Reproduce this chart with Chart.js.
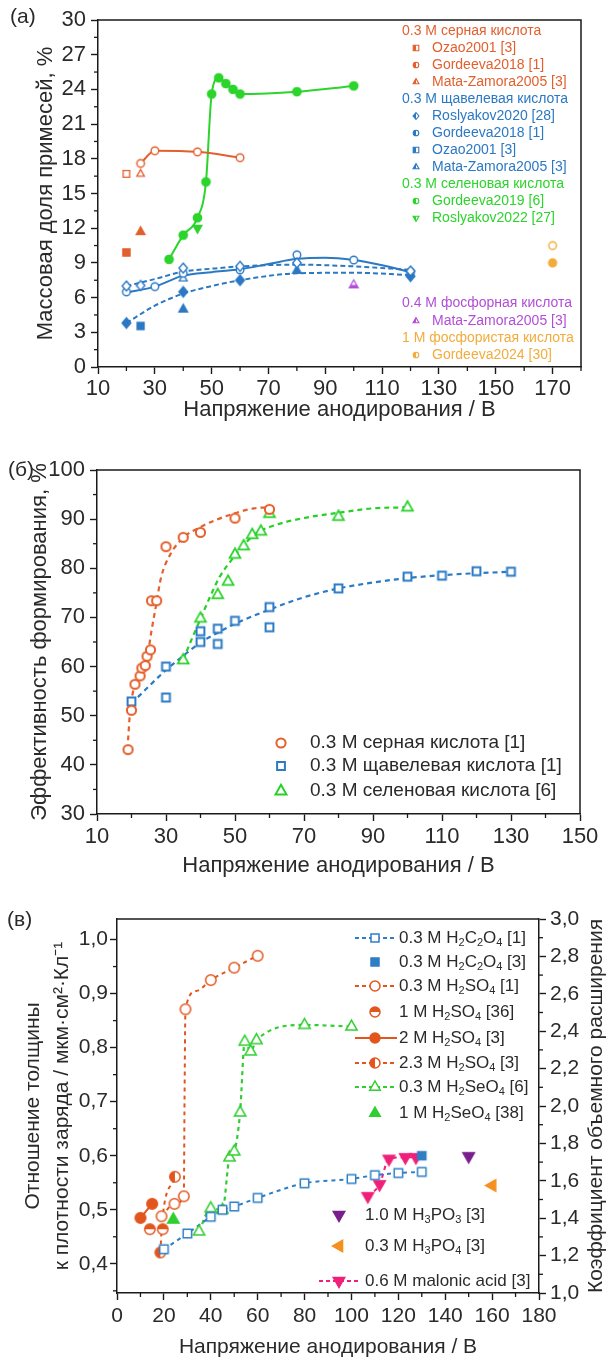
<!DOCTYPE html>
<html><head><meta charset="utf-8">
<script src="https://cdn.jsdelivr.net/npm/chart.js@4.4.1/dist/chart.umd.min.js"></script>
<style>
html,body{margin:0;padding:0;background:#fff;width:606px;height:1358px;overflow:hidden;position:relative}
canvas{position:absolute;left:0}
</style></head><body>
<canvas id="ca" width="606" height="430" style="top:0px"></canvas>
<canvas id="cb" width="606" height="460" style="top:430px"></canvas>
<canvas id="cc" width="606" height="480" style="top:890px"></canvas>
<script>
// ================= DATA =================
// ---- Panel (a) ----
const aXTicks = [10,30,50,70,90,110,130,150,170];
const aXMinor = [20,40,60,80,100,120,140,160,180];
const aYTicks = [0,3,6,9,12,15,18,21,24,27,30];
const aYMinor = [1.5,4.5,7.5,10.5,13.5,16.5,19.5,22.5,25.5,28.5];

const aSulfOzaoOpenV = [20], aSulfOzaoOpen = [16.7];
const aSulfOzaoFillV = [20], aSulfOzaoFill = [9.9];
const aSulfGordV = [25,30,45,60], aSulfGord = [17.6,18.7,18.6,18.1];
const aSulfMataOpenV = [25], aSulfMataOpen = [16.7];
const aSulfMataFillV = [25], aSulfMataFill = [11.7];

const aOxRosOpenV = [20,25,40,60,80,120], aOxRosOpen = [7.0,7.05,8.55,8.7,9.0,8.3];
const aOxRosFillV = [20,40,60,120], aOxRosFill = [3.8,6.5,7.5,7.85];
const aOxGordV = [20,30,40,60,80,100,120], aOxGord = [6.5,6.95,8.1,8.4,9.7,9.25,8.2];
const aOxOzaoFillV = [25], aOxOzaoFill = [3.55];
const aOxMataOpenV = [40], aOxMataOpen = [7.65];
const aOxMataFillV = [40,80], aOxMataFill = [5.0,8.35];

const aSeGordV = [35,40,45,48,50,52.5,55,57.5,60,80,100];
const aSeGord  = [9.3,11.4,12.9,16.0,23.6,25.0,24.5,24.0,23.6,23.8,24.3];
const aSeRosV = [45], aSeRos = [12.0];

const aPhosMataV = [100], aPhosMata = [7.1];
const aPhosiOpenV = [170], aPhosiOpen = [10.5];
const aPhosiFillV = [170], aPhosiFill = [9.0];

// fitted curves
const aOxFitSolidV = [20,30,40,50,60,70,80,90,100,110,120];
const aOxFitSolid  = [6.45,6.95,7.9,8.2,8.45,8.9,9.35,9.45,9.25,8.8,8.2];
const aOxFitUpV = [20,30,40,50,60,80,100,120];
const aOxFitUp  = [7.0,7.6,8.25,8.5,8.7,8.85,8.7,8.4];
const aOxFitLowV = [20,30,40,50,60,80,100,120];
const aOxFitLow  = [3.8,5.3,6.35,7.0,7.5,8.1,8.15,7.95];

// ---- Panel (b) ----
const bXTicks = [10,30,50,70,90,110,130,150];
const bXMinor = [20,40,60,80,100,120,140];
const bYTicks = [30,40,50,60,70,80,90,100];
const bYMinor = [35,45,55,65,75,85,95];

const bSulfV = [19,20,21,22.5,23,24,24.5,25.5,25.8,27.3,30,35,40,50,60];
const bSulf  = [43.1,51.1,56.4,58.1,59.7,60.2,62.1,63.4,73.4,73.4,84.4,86.3,87.3,90.2,92.0];
const bOxV = [20,30,30,40,40,45,45,50,60,60,80,100,110,120,130];
const bOx  = [52.9,60.0,53.7,67.2,65.0,67.7,64.6,69.3,72.1,68.0,75.9,78.3,78.5,79.4,79.3];
const bSeV = [35,40,45,48,50,52.5,55,57.5,60,80,100];
const bSe  = [61.3,69.8,74.6,77.3,82.8,84.5,86.8,87.5,91.1,90.5,92.4];

const bSulfFitV = [19,19.6,20.7,22.4,24.7,25.8,27,28.6,31.4,35.3,40,44.3,50,55.5,60];
const bSulfFit  = [45,51,55.6,58.6,62.6,67.3,72,78.2,83,86.4,88.4,89.8,91.2,92.2,92.4];
const bOxFitV = [20,30,35,40,45,50,60,70,80,90,100,110,120,130];
const bOxFit  = [52.5,59.3,62.2,64.9,66.9,68.7,71.6,74.1,75.9,77.1,78.0,78.6,79.0,79.3];
const bSeFitV = [35,37.7,40,42.7,45.5,48.9,52.2,56.1,60,69,80,90,100];
const bSeFit  = [61.4,66,69.7,74.1,78.2,81.6,84.5,87.1,88.4,90.1,91.3,92.2,92.4];

// ---- Panel (c) ----
const cXTicks = [0,20,40,60,80,100,120,140,160,180];
const cXMinor = [10,30,50,70,90,110,130,150,170];
const cYTicks = [0.4,0.5,0.6,0.7,0.8,0.9,1.0];
const cYMinor = [0.35,0.45,0.55,0.65,0.75,0.85,0.95];
const cY2Ticks = [1.0,1.2,1.4,1.6,1.8,2.0,2.2,2.4,2.6,2.8,3.0];
const cY2Minor = [1.1,1.3,1.5,1.7,1.9,2.1,2.3,2.5,2.7,2.9];

const cOx1V = [20,30,40,45,50,60,80,100,110,120,130];
const cOx1  = [0.427,0.456,0.487,0.500,0.506,0.522,0.549,0.557,0.564,0.568,0.570];
const cOx3V = [130], cOx3 = [0.600];
const cS03V = [19,24.5,28.5,29.2,40,50,60];
const cS03  = [0.488,0.511,0.525,0.871,0.925,0.948,0.970];
const cS1V = [14,19.5], cS1 = [0.464,0.464];
const cS2V = [10,15], cS2 = [0.485,0.511];
const cS23V = [18.5,24.7], cS23 = [0.421,0.561];
const cSe03V = [35,40,45,48,50,52.5,54.5,57,59.5,80,100];
const cSe03  = [0.460,0.503,0.500,0.597,0.608,0.680,0.811,0.793,0.814,0.842,0.839];
const cSe1V = [24], cSe1 = [0.482];
const cP3V = [150], cP3 = [0.599];
const cP4V = [160], cP4 = [0.545];
const cMalV = [107,112,116,123,127.5], cMal = [0.525,0.547,0.594,0.597,0.597];

const cS03LineV = [19,24.5,28.5,28.8,29.2,34,40,50,60];
const cS03Line  = [0.488,0.511,0.525,0.70,0.871,0.905,0.925,0.948,0.970];
const cS23LineV = [18.5,18.8,19.3,24.7];
const cS23Line  = [0.421,0.445,0.48,0.561];

// ================= HELPERS =================
const FONT = "'Liberation Sans', Arial, Helvetica, sans-serif";
const TXT = '#2a2a2a';
const pts = (V, Y) => V.map((v, i) => ({x: v, y: Y[i]}));

function shapePath(ctx, shape, x, y, r) {
  ctx.beginPath();
  if (shape === 'circle') ctx.arc(x, y, r, 0, Math.PI * 2);
  else if (shape === 'square') ctx.rect(x - r, y - r, 2 * r, 2 * r);
  else if (shape === 'tri') { ctx.moveTo(x, y - r * 1.2); ctx.lineTo(x + r * 1.05, y + r * 0.65); ctx.lineTo(x - r * 1.05, y + r * 0.65); ctx.closePath(); }
  else if (shape === 'triDown') { ctx.moveTo(x, y + r * 1.2); ctx.lineTo(x + r * 1.05, y - r * 0.65); ctx.lineTo(x - r * 1.05, y - r * 0.65); ctx.closePath(); }
  else if (shape === 'triLeft') { ctx.moveTo(x - r * 1.2, y); ctx.lineTo(x + r * 0.65, y - r * 1.05); ctx.lineTo(x + r * 0.65, y + r * 1.05); ctx.closePath(); }
  else if (shape === 'diamond') { ctx.moveTo(x, y - r * 1.25); ctx.lineTo(x + r * 1.05, y); ctx.lineTo(x, y + r * 1.25); ctx.lineTo(x - r * 1.05, y); ctx.closePath(); }
}
function glyph(ctx, shape, x, y, r, color, mode, lw) {
  ctx.save();
  shapePath(ctx, shape, x, y, r);
  if (mode === 'filled') { ctx.fillStyle = color; ctx.fill(); }
  else {
    ctx.fillStyle = '#fff'; ctx.fill();
    if (mode !== 'open') {
      ctx.save(); ctx.clip(); ctx.fillStyle = color;
      if (mode === 'halfL') ctx.fillRect(x - 3 * r, y - 3 * r, 3 * r, 6 * r);
      else if (mode === 'halfR') ctx.fillRect(x, y - 3 * r, 3 * r, 6 * r);
      else if (mode === 'halfT') ctx.fillRect(x - 3 * r, y - 3 * r, 6 * r, 3 * r);
      else if (mode === 'halfB') ctx.fillRect(x - 3 * r, y, 6 * r, 3 * r);
      ctx.restore();
    }
  }
  shapePath(ctx, shape, x, y, r);
  ctx.lineWidth = lw; ctx.strokeStyle = color; ctx.lineJoin = 'miter'; ctx.stroke();
  ctx.restore();
}
function makeStyle(shape, r, color, mode, lw) {
  const s = Math.ceil(r * 2.8 + lw * 2 + 2);
  const c = document.createElement('canvas'); c.width = s; c.height = s;
  glyph(c.getContext('2d'), shape, s / 2, s / 2, r, color, mode, lw);
  return c;
}
function mk(data, shape, color, mode, r, lw) {
  return {data, showLine: false, pointStyle: makeStyle(shape, r, color, mode, lw || 1.5), order: 0};
}
function ln(data, color, dash, width) {
  return {data, showLine: true, pointRadius: 0, borderColor: color, borderWidth: width || 2,
    borderDash: dash || [], cubicInterpolationMode: 'monotone', fill: false, order: 10};
}
function axis(o) {
  return {
    type: 'linear', position: o.position, min: o.min, max: o.max,
    afterBuildTicks: s => { s.ticks = o.ticks.map(v => ({value: v})); },
    afterFit: s => {
      if (s.isHorizontal()) { s.height = o.size; s.paddingLeft = 0; s.paddingRight = 0; }
      else { s.width = o.size; s.paddingTop = 0; s.paddingBottom = 0; }
    },
    ticks: {callback: o.fmt || (v => String(v)), font: {family: FONT, size: o.fs || 22}, color: TXT, padding: o.tp, autoSkip: false, maxRotation: 0},
    grid: {display: true, drawOnChartArea: false, drawTicks: true, tickLength: 7, tickColor: '#1a1a1a', tickWidth: 1.4},
    border: {display: true, color: '#1a1a1a', width: 1.5},
    title: {display: !!o.title, text: o.title || '', font: {family: FONT, size: o.tfs || 22, lineHeight: o.tlh || 1.2}, color: TXT, padding: o.tpad}
  };
}
function minorTicks(ctx, chart, id, vals, side) {
  const s = chart.scales[id], a = chart.chartArea;
  ctx.save(); ctx.strokeStyle = '#1a1a1a'; ctx.lineWidth = 1.3;
  vals.forEach(v => {
    const p = s.getPixelForValue(v);
    ctx.beginPath();
    if (side === 'b') { ctx.moveTo(p, a.bottom); ctx.lineTo(p, a.bottom + 4); }
    else if (side === 'l') { ctx.moveTo(a.left, p); ctx.lineTo(a.left - 4, p); }
    else { ctx.moveTo(a.right, p); ctx.lineTo(a.right + 4, p); }
    ctx.stroke();
  });
  ctx.restore();
}
function frame(ctx, a) {
  ctx.save(); ctx.strokeStyle = '#1a1a1a'; ctx.lineWidth = 1.5;
  ctx.beginPath(); ctx.moveTo(a.left, a.top); ctx.lineTo(a.right, a.top); ctx.lineTo(a.right, a.bottom); ctx.stroke();
  ctx.restore();
}
function text(ctx, s, x, y, size, color, align) {
  ctx.save(); ctx.font = size + 'px ' + FONT; ctx.fillStyle = color; ctx.textBaseline = 'middle';
  ctx.textAlign = align || 'left'; ctx.fillText(s, x, y); ctx.restore();
}
// chemical text: '_' makes next char a subscript
function chem(ctx, s, x, y, size, color) {
  ctx.save(); ctx.fillStyle = color; ctx.textBaseline = 'middle'; ctx.textAlign = 'left';
  let cx = x;
  for (let i = 0; i < s.length; i++) {
    if (s[i] === '_') {
      i++; ctx.font = Math.round(size * 0.62) + 'px ' + FONT;
      ctx.fillText(s[i], cx, y + size * 0.28); cx += ctx.measureText(s[i]).width;
    } else {
      ctx.font = size + 'px ' + FONT; ctx.fillText(s[i], cx, y); cx += ctx.measureText(s[i]).width;
    }
  }
  ctx.restore();
}
const baseOpts = (pad) => ({
  responsive: false, animation: false, devicePixelRatio: 1, events: [],
  plugins: {legend: {display: false}, tooltip: {enabled: false}},
  layout: {padding: pad}
});

// ================= PANEL (a) =================
const A_OR = '#E2602E', A_BL = '#2B78C3', A_GR = '#2CD42C', A_PU = '#B24ED6', A_YE = '#F2AC3C';
const aLegend = [
  ['h', '0.3 M серная кислота', A_OR, 31],
  ['square', 'Ozao2001 [3]', A_OR, 48],
  ['circle', 'Gordeeva2018 [1]', A_OR, 65],
  ['tri', 'Mata-Zamora2005 [3]', A_OR, 82],
  ['h', '0.3 M щавелевая кислота', A_BL, 99],
  ['diamond', 'Roslyakov2020 [28]', A_BL, 116],
  ['circle', 'Gordeeva2018 [1]', A_BL, 133],
  ['square', 'Ozao2001 [3]', A_BL, 150],
  ['tri', 'Mata-Zamora2005 [3]', A_BL, 167],
  ['h', '0.3 M селеновая кислота', A_GR, 184],
  ['circle', 'Gordeeva2019 [6]', A_GR, 201],
  ['triDown', 'Roslyakov2022 [27]', A_GR, 218],
  ['h', '0.4 M фосфорная кислота', A_PU, 303],
  ['tri', 'Mata-Zamora2005 [3]', A_PU, 321],
  ['h', '1 M фосфористая кислота', A_YE, 338],
  ['circle', 'Gordeeva2024 [30]', A_YE, 355]
];
new Chart(document.getElementById('ca'), {
  type: 'scatter',
  data: {datasets: [
    mk(pts(aSulfOzaoOpenV, aSulfOzaoOpen), 'square', A_OR, 'open', 3.3, 1.3),
    mk(pts(aSulfOzaoFillV, aSulfOzaoFill), 'square', A_OR, 'filled', 3.6, 1.3),
    mk(pts(aSulfGordV, aSulfGord), 'circle', A_OR, 'open', 3.8, 1.4),
    mk(pts(aSulfMataOpenV, aSulfMataOpen), 'tri', A_OR, 'open', 3.6, 1.3),
    mk(pts(aSulfMataFillV, aSulfMataFill), 'tri', A_OR, 'filled', 4.2, 1.3),
    mk(pts(aOxRosOpenV, aOxRosOpen), 'diamond', A_BL, 'open', 4.0, 1.4),
    mk(pts(aOxRosFillV, aOxRosFill), 'diamond', A_BL, 'filled', 4.2, 1.3),
    mk(pts(aOxGordV, aOxGord), 'circle', A_BL, 'open', 3.8, 1.4),
    mk(pts(aOxOzaoFillV, aOxOzaoFill), 'square', A_BL, 'filled', 3.5, 1.3),
    mk(pts(aOxMataOpenV, aOxMataOpen), 'tri', A_BL, 'open', 3.8, 1.3),
    mk(pts(aOxMataFillV, aOxMataFill), 'tri', A_BL, 'filled', 4.2, 1.3),
    mk(pts(aSeRosV, aSeRos), 'triDown', A_GR, 'filled', 4.2, 1.3),
    mk(pts(aSeGordV, aSeGord), 'circle', A_GR, 'filled', 4.2, 1.3),
    mk(pts(aPhosMataV, aPhosMata), 'tri', A_PU, 'halfB', 4.2, 1.3),
    mk(pts(aPhosiOpenV, aPhosiOpen), 'circle', A_YE, 'open', 3.8, 1.4),
    mk(pts(aPhosiFillV, aPhosiFill), 'circle', A_YE, 'filled', 4.0, 1.3),
    ln(pts(aSulfGordV, aSulfGord), A_OR, [], 2),
    ln(pts(aSeGordV, aSeGord), A_GR, [], 2),
    ln(pts(aOxFitSolidV, aOxFitSolid), A_BL, [], 2),
    ln(pts(aOxFitUpV, aOxFitUp), A_BL, [5, 3], 2),
    ln(pts(aOxFitLowV, aOxFitLow), A_BL, [5, 3], 2)
  ]},
  options: Object.assign(baseOpts({left: 0, right: 25, top: 20, bottom: 0}), {
    scales: {
      x: axis({position: 'bottom', min: 10, max: 180, ticks: aXTicks, size: 63, tp: 2,
        title: 'Напряжение анодирования / В', tpad: {top: 0, bottom: 7}}),
      y: axis({position: 'left', min: 0, max: 30, ticks: aYTicks, size: 98, tp: 5,
        title: 'Массовая доля примесей, %', tpad: {top: 33, bottom: 0}})
    }
  }),
  plugins: [{
    id: 'decorA',
    afterDraw(chart) {
      const ctx = chart.ctx, a = chart.chartArea;
      frame(ctx, a);
      minorTicks(ctx, chart, 'x', aXMinor, 'b');
      minorTicks(ctx, chart, 'y', aYMinor, 'l');
      text(ctx, '(a)', 10, 17, 21, TXT);
      aLegend.forEach(([k, s, c, y]) => {
        if (k === 'h') text(ctx, s, 402, y, 14, c);
        else { glyph(ctx, k, 416, y, 2.8, c, 'halfL', 1.1); text(ctx, s, 432, y, 14, c); }
      });
    }
  }]
});

// ================= PANEL (b) =================
const B_OR = '#E4602C', B_BL = '#2B7BC4', B_GR = '#27D027';
new Chart(document.getElementById('cb'), {
  type: 'scatter',
  data: {datasets: [
    mk(pts(bSulfV, bSulf), 'circle', B_OR, 'open', 4.6, 2),
    mk(pts(bOxV, bOx), 'square', B_BL, 'open', 3.9, 2),
    mk(pts(bSeV, bSe), 'tri', B_GR, 'open', 5.2, 1.7),
    ln(pts(bSulfFitV, bSulfFit), B_OR, [5, 4], 2.2),
    ln(pts(bOxFitV, bOxFit), B_BL, [5, 4], 2.2),
    ln(pts(bSeFitV, bSeFit), B_GR, [5, 4], 2.2)
  ]},
  options: Object.assign(baseOpts({left: 0, right: 26, top: 40, bottom: 0}), {
    scales: {
      x: axis({position: 'bottom', min: 10, max: 150, ticks: bXTicks, size: 76, tp: 3,
        title: 'Напряжение анодирования / В', tpad: {top: 0, bottom: 11}}),
      y: axis({position: 'left', min: 30, max: 100, ticks: bYTicks, size: 97, tp: 5,
        title: 'Эффективность формирования, %', tpad: {top: 27, bottom: 0}})
    }
  }),
  plugins: [{
    id: 'decorB',
    afterDraw(chart) {
      const ctx = chart.ctx, a = chart.chartArea;
      frame(ctx, a);
      minorTicks(ctx, chart, 'x', bXMinor, 'b');
      minorTicks(ctx, chart, 'y', bYMinor, 'l');
      text(ctx, '(б)', 8, 40, 21, TXT);
      const L = [['circle', B_OR, '0.3 M серная кислота [1]', 313],
                 ['square', B_BL, '0.3 M щавелевая кислота [1]', 336],
                 ['tri', B_GR, '0.3 M селеновая кислота [6]', 361]];
      L.forEach(([sh, c, s, y]) => {
        glyph(ctx, sh, 281, y, sh === 'tri' ? 5.2 : (sh === 'square' ? 3.9 : 4.6), c, 'open', 2);
        text(ctx, s, 310, y, 19, TXT);
      });
    }
  }]
});

// ================= PANEL (c) =================
const C_BL = '#2E7EC6', C_OR = '#E2561E', C_GR = '#30CE30', C_PU = '#7A1E8E', C_OR2 = '#F5901E', C_PK = '#F0207A';
const comma = v => v.toFixed(1).replace('.', ',');
new Chart(document.getElementById('cc'), {
  type: 'scatter',
  data: {datasets: [
    mk(pts(cOx1V, cOx1), 'square', C_BL, 'open', 4.2, 1.5),
    mk(pts(cOx3V, cOx3), 'square', C_BL, 'filled', 4.2, 1.3),
    mk(pts(cS03V, cS03), 'circle', C_OR, 'open', 5.2, 1.5),
    mk(pts(cS1V, cS1), 'circle', C_OR, 'halfT', 5.2, 1.5),
    mk(pts(cS2V, cS2), 'circle', C_OR, 'filled', 5.4, 1.3),
    mk(pts(cS23V, cS23), 'circle', C_OR, 'halfL', 5.2, 1.5),
    mk(pts(cSe03V, cSe03), 'tri', C_GR, 'open', 5.4, 1.5),
    mk(pts(cSe1V, cSe1), 'tri', C_GR, 'filled', 5.6, 1.3),
    mk(pts(cP3V, cP3), 'triDown', C_PU, 'filled', 5.6, 1.3),
    mk(pts(cP4V, cP4), 'triLeft', C_OR2, 'filled', 5.6, 1.3),
    mk(pts(cMalV, cMal), 'triDown', C_PK, 'filled', 5.6, 1.3),
    ln(pts(cOx1V, cOx1), C_BL, [4, 4], 2),
    ln(pts(cS03LineV, cS03Line), C_OR, [4, 4], 2),
    ln(pts(cS2V, cS2), C_OR, [], 2),
    ln(pts(cS23LineV, cS23Line), C_OR, [4, 4], 2),
    ln(pts(cSe03V, cSe03), C_GR, [4, 4], 2.2),
    ln(pts(cMalV, cMal), C_PK, [4, 4], 2)
  ]},
  options: Object.assign(baseOpts({left: 0, right: 0, top: 29, bottom: 0}), {
    scales: {
      x: axis({position: 'bottom', min: 0, max: 180, ticks: cXTicks, size: 77, tp: 4, fs: 21, tfs: 21,
        title: 'Напряжение анодирования / В', tpad: {top: 0, bottom: 10}}),
      y: axis({position: 'left', min: 0.346, max: 1.038, ticks: cYTicks, size: 117, tp: 2, fs: 21, tfs: 21, tlh: 1.38,
        fmt: comma, title: ['Отношение толщины', 'к плотности заряда / мкм·см²·Кл⁻¹'], tpad: {top: 19, bottom: 0}}),
      y2: axis({position: 'right', min: 1.0, max: 3.0, ticks: cY2Ticks, size: 67, tp: 4, fs: 21,
        fmt: comma, title: null})
    }
  }),
  plugins: [{
    id: 'decorC',
    afterDraw(chart) {
      const ctx = chart.ctx, a = chart.chartArea;
      ctx.save(); ctx.strokeStyle = '#1a1a1a'; ctx.lineWidth = 1.5;
      ctx.beginPath(); ctx.moveTo(a.left, a.top); ctx.lineTo(a.right, a.top); ctx.stroke(); ctx.restore();
      minorTicks(ctx, chart, 'x', cXMinor, 'b');
      minorTicks(ctx, chart, 'y', cYMinor, 'l');
      minorTicks(ctx, chart, 'y2', cY2Minor, 'r');
      text(ctx, '(в)', 7, 30, 21, TXT);
      // right axis title, reading bottom-to-top
      ctx.save(); ctx.translate(596, (a.top + a.bottom) / 2); ctx.rotate(-Math.PI / 2);
      text(ctx, 'Коэффициент объемного расширения', 0, 0, 21, TXT, 'center'); ctx.restore();
      const L = [
        [true, [4, 3], 'square', C_BL, 'open', '0.3 M H_2C_2O_4 [1]', 48],
        [false, null, 'square', C_BL, 'filled', '0.3 M H_2C_2O_4 [3]', 72],
        [true, [4, 3], 'circle', C_OR, 'open', '0.3 M H_2SO_4 [1]', 96],
        [false, null, 'circle', C_OR, 'halfT', '1 M H_2SO_4 [36]', 122],
        [true, [], 'circle', C_OR, 'filled', '2 M H_2SO_4 [3]', 148],
        [true, [4, 3], 'circle', C_OR, 'halfL', '2.3 M H_2SO_4 [3]', 173],
        [true, [4, 3], 'tri', C_GR, 'open', '0.3 M H_2SeO_4 [6]', 197],
        [false, null, 'tri', C_GR, 'filled', '1 M H_2SeO_4 [38]', 223]
      ];
      L.forEach(([hasLine, dash, sh, c, mode, s, y]) => {
        if (hasLine) {
          ctx.save(); ctx.strokeStyle = c; ctx.lineWidth = 2; ctx.setLineDash(dash);
          ctx.beginPath(); ctx.moveTo(355, y); ctx.lineTo(397, y); ctx.stroke(); ctx.restore();
        }
        glyph(ctx, sh, 375, y, sh === 'square' ? 4 : 5, c, mode, 1.5);
        chem(ctx, s, 399, y, 17, TXT);
      });
      const L2 = [
        [false, 'triDown', C_PU, '1.0 M H_3PO_3 [3]', 325],
        [false, 'triLeft', C_OR2, '0.3 M H_3PO_4 [3]', 356],
        [true, 'triDown', C_PK, '0.6 M malonic acid [3]', 391]
      ];
      L2.forEach(([hasLine, sh, c, s, y]) => {
        if (hasLine) {
          ctx.save(); ctx.strokeStyle = c; ctx.lineWidth = 2; ctx.setLineDash([4, 3]);
          ctx.beginPath(); ctx.moveTo(319, y); ctx.lineTo(361, y); ctx.stroke(); ctx.restore();
        }
        glyph(ctx, sh, 339, y, 5.6, c, 'filled', 1.3);
        chem(ctx, s, 365, y, 17, TXT);
      });
    }
  }]
});
</script>
</body></html>
